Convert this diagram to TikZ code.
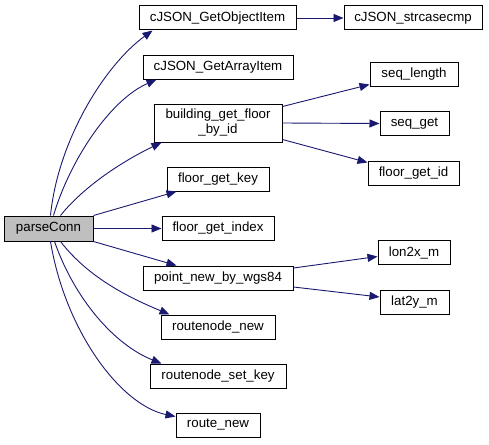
\documentclass[tikz,border=0pt]{standalone}
\usepackage{fontspec}
\setmainfont{Liberation Sans}
\usetikzlibrary{arrows.meta}

\begin{document}
\begin{tikzpicture}[x=1pt,y=-1pt,
    fn/.style={draw=black, line width=1pt, fill=white, inner sep=0pt, minimum height=24,
      font=\fontsize{13.3}{15}\selectfont},
    call/.style={draw={rgb,255:red,25;green,25;blue,112}, line width=0.9pt,
      -{Triangle[length=10,width=8]}, fill=none}]
    \useasboundingbox (0,0) rectangle (489,444);
    % caller
    \node[fn, fill={rgb,255:red,191;green,191;blue,191}, minimum width=89, minimum height=25] (pc) at (48.5,228.5) {parseConn};
    % first rank
    \node[fn, minimum width=157] (objitem) at (217.5,18) {cJSON\_GetObjectItem};
    \node[fn, minimum width=150] (arrayitem) at (218,67) {cJSON\_GetArrayItem};
    \node[fn, minimum width=128, minimum height=38, align=center] (floorbyid) at (218,123) {building\_get\_floor\\\_by\_id};
    \node[fn, minimum width=102] (floorkey) at (218,179) {floor\_get\_key};
    \node[fn, minimum width=112] (floorindex) at (218,228.5) {floor\_get\_index};
    \node[fn, minimum width=150] (pointnew) at (218,278) {point\_new\_by\_wgs84};
    \node[fn, minimum width=114] (rnnew) at (218,327) {routenode\_new};
    \node[fn, minimum width=136] (rnsetkey) at (218,376) {routenode\_set\_key};
    \node[fn, minimum width=84] (routenew) at (218,425) {route\_new};
    % second rank
    \node[fn, minimum width=138] (strcase) at (413,18) {cJSON\_strcasecmp};
    \node[fn, minimum width=88] (seqlen) at (414,74) {seq\_length};
    \node[fn, minimum width=69] (seqget) at (414.5,123.5) {seq\_get};
    \node[fn, minimum width=91] (floorid) at (413.5,173) {floor\_get\_id};
    \node[fn, minimum width=72] (lonx) at (414,252.5) {lon2x\_m};
    \node[fn, minimum width=69] (laty) at (414.5,302) {lat2y\_m};

    % calls from parseConn
    \draw[call] ([xshift=2]pc.north) .. controls (58,140) and (105,65) .. ([xshift=14]objitem.south west);
    \draw[call] ([xshift=5]pc.north) .. controls (70,160) and (110,100) .. ([xshift=14]arrayitem.south west);
    \draw[call] ([xshift=12]pc.north) .. controls (85,185) and (125,160) .. ([xshift=8]floorbyid.south west);
    \draw[call] (pc.north east) -- ([xshift=10]floorkey.south west);
    \draw[call] (pc.east) -- (floorindex.west);
    \draw[call] (pc.south east) -- ([xshift=34]pointnew.north west);
    \draw[call] ([xshift=12]pc.south) .. controls (90,280) and (135,300) .. ([xshift=9]rnnew.north west);
    \draw[call] ([xshift=6]pc.south) .. controls (75,300) and (115,345) .. ([xshift=12]rnsetkey.north west);
    \draw[call] ([xshift=2]pc.south) .. controls (65,330) and (120,405) .. ([yshift=-4]routenew.north west);
    % nested calls
    \draw[call] (objitem.east) -- (strcase.west);
    \draw[call] ([yshift=-3]floorbyid.north east) -- ([yshift=2]seqlen.south west);
    \draw[call] (floorbyid.east) -- (seqget.west);
    \draw[call] ([yshift=3]floorbyid.south east) -- ([yshift=-2]floorid.north west);
    \draw[call] ([yshift=10]pointnew.east) -- ([yshift=-4]lonx.west);
    \draw[call] ([yshift=-9]pointnew.east) -- ([yshift=5]laty.west);
\end{tikzpicture}
\end{document}
